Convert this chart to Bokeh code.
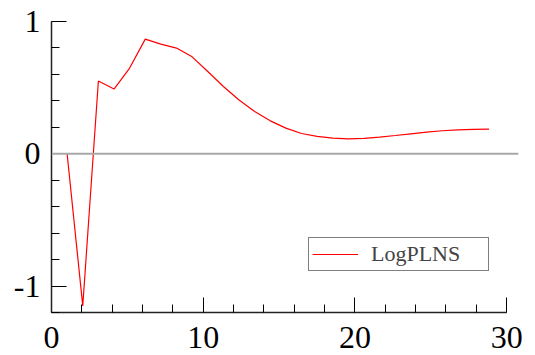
from bokeh.plotting import figure
from bokeh.models import SingleIntervalTicker, Span, Legend, LegendItem, Range1d, CustomJSTickFormatter
from bokeh.embed import file_html
from bokeh.resources import INLINE

horizon = [1.03, 2.06, 3.09, 4.12, 5.15, 6.18, 7.21, 8.24, 9.27, 10.3, 11.33, 12.36,
           13.39, 14.42, 15.45, 16.48, 17.51, 18.54, 19.57, 20.6, 21.63, 22.66, 23.69,
           24.72, 25.75, 26.78, 27.81, 28.84]
logplns = [0.0, -1.15, 0.55, 0.489, 0.648, 0.867, 0.829, 0.799, 0.733, 0.622, 0.509,
           0.406, 0.32, 0.249, 0.194, 0.153, 0.131, 0.119, 0.113, 0.116, 0.126, 0.138,
           0.151, 0.164, 0.174, 0.18, 0.184, 0.187]
series_name = "LogPLNS"

FONT = "Liberation Serif"

p = figure(frame_width=467, frame_height=291, output_backend="svg", toolbar_location=None,
           x_range=Range1d(0, 30.78), y_range=Range1d(-1.2, 1.0),
           min_border_left=51, min_border_right=17, min_border_top=21, min_border_bottom=43)
p.outline_line_color = None
p.grid.visible = False
p.background_fill_color = "white"

zero = Span(location=0, dimension="width", line_color="#a8a8a8", line_width=1.8)
p.add_layout(zero)

r = p.line(horizon, logplns, line_color="red", line_width=1.2)

p.xaxis.ticker = SingleIntervalTicker(interval=10, num_minor_ticks=5)
p.yaxis.ticker = SingleIntervalTicker(interval=1, num_minor_ticks=5)
p.xaxis.bounds = (0, 30)
for ax in (p.xaxis, p.yaxis):
    ax.formatter = CustomJSTickFormatter(code="return tick.toFixed(0);")
    ax.axis_line_color = "#222222"
    ax.axis_line_width = 1.5
    ax.major_tick_line_color = "black"
    ax.minor_tick_line_color = "black"
    ax.major_tick_in = 15
    ax.major_tick_out = 0
    ax.minor_tick_in = 8
    ax.minor_tick_out = 0
    ax.major_label_text_font = FONT
    ax.major_label_text_font_size = "32px"
    ax.major_label_text_color = "black"
p.xaxis.major_label_standoff = 14
p.xaxis.major_label_text_line_height = 0.7
p.yaxis.major_label_standoff = 11

legend = Legend(items=[LegendItem(label=series_name, renderers=[r])],
                location=(257, 41), padding=3, glyph_width=46, label_standoff=13,
                label_width=114, label_text_font=FONT, label_text_font_size="22px",
                border_line_color="black", border_line_width=1, spacing=0,
                background_fill_alpha=1.0)
p.add_layout(legend)

open("out.html", "w").write(file_html(p, INLINE))
